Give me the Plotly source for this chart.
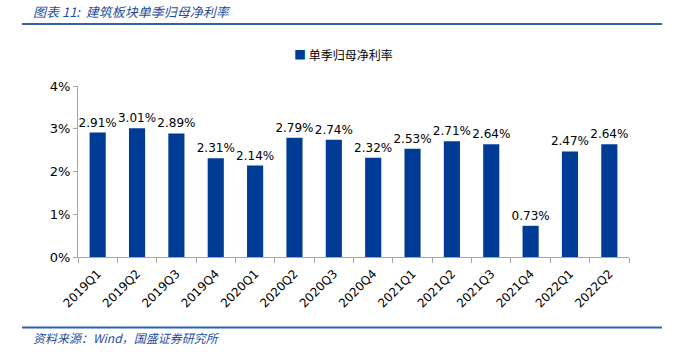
import plotly.graph_objects as go

categories = ["2019Q1", "2019Q2", "2019Q3", "2019Q4", "2020Q1", "2020Q2", "2020Q3",
              "2020Q4", "2021Q1", "2021Q2", "2021Q3", "2021Q4", "2022Q1", "2022Q2"]
values = [2.91, 3.01, 2.89, 2.31, 2.14, 2.79, 2.74, 2.32, 2.53, 2.71, 2.64, 0.73, 2.47, 2.64]
series_name = "单季归母净利率"
y_ticks = [0, 1, 2, 3, 4]
y_tick_labels = ["0%", "1%", "2%", "3%", "4%"]
title_text = "图表 11:  建筑板块单季归母净利率"
source_text = "资料来源：<i>Wind</i>，国盛证券研究所"

BAR = "#003C96"
LINE_BLUE = "#2F62AA"
TXT_BLUE = "#1F4E9C"
AX = "#A6A6A6"
NUM_FONT = "DejaVu Sans, Verdana, sans-serif"
CJK = "Noto Sans CJK SC"

fig = go.Figure()
fig.add_trace(go.Bar(
    x=categories, y=values, name=series_name,
    marker=dict(color=BAR, line=dict(width=0)),
    text=[f"{v:.2f}%" for v in values], textposition="outside",
    constraintext="none",
    textfont=dict(family=NUM_FONT, size=12, color="#000000"),
    cliponaxis=False, showlegend=False,
))

L, R, T, B = 78, 49, 86, 95
W, H = 678, 352
pw, ph = W - L - R, H - T - B

def px(x):
    return (x - L) / pw

def py(y):
    return (H - B - y) / ph

fig.update_layout(
    width=W, height=H,
    margin=dict(l=L, r=R, t=T, b=B, pad=0),
    paper_bgcolor="white", plot_bgcolor="white",
    bargap=0.59,
    showlegend=False,
    xaxis=dict(showline=True, linecolor=AX, linewidth=1, ticks="outside", tickson="boundaries",
               ticklen=5, tickcolor=AX, tickangle=-45, ticklabelstandoff=4,
               tickfont=dict(family=NUM_FONT, size=12, color="#000000"), showgrid=False),
    yaxis=dict(range=[0, 4], tickvals=y_ticks, ticktext=y_tick_labels, showline=True,
               linecolor=AX, linewidth=1, ticks="outside", ticklen=4, tickcolor=AX,
               tickfont=dict(family=NUM_FONT, size=13, color="#000000"), showgrid=False,
               zeroline=False),
    shapes=[
        dict(type="line", xref="paper", yref="paper", x0=px(22), x1=px(662), y0=py(24), y1=py(24),
             line=dict(color=LINE_BLUE, width=2)),
        dict(type="line", xref="paper", yref="paper", x0=px(22), x1=px(662), y0=py(327.5), y1=py(327.5),
             line=dict(color=LINE_BLUE, width=2)),
    ],
    annotations=[
        dict(text="<i>" + title_text + "</i>", xref="paper", yref="paper", x=px(31), y=py(11),
             xanchor="left", yanchor="middle", showarrow=False,
             font=dict(family=CJK, size=13, color=TXT_BLUE)),
        dict(text="<i>" + source_text + "</i>", xref="paper", yref="paper", x=px(31), y=py(337),
             xanchor="left", yanchor="middle", showarrow=False,
             font=dict(family=CJK, size=12, color=TXT_BLUE)),
        dict(text="<span style='color:" + BAR + "'>■</span> " + series_name,
             xref="paper", yref="paper", x=px(292), y=py(55),
             xanchor="left", yanchor="middle", showarrow=False,
             font=dict(family=CJK, size=12, color="#000000")),
    ],
)

fig.write_html("out.html")
